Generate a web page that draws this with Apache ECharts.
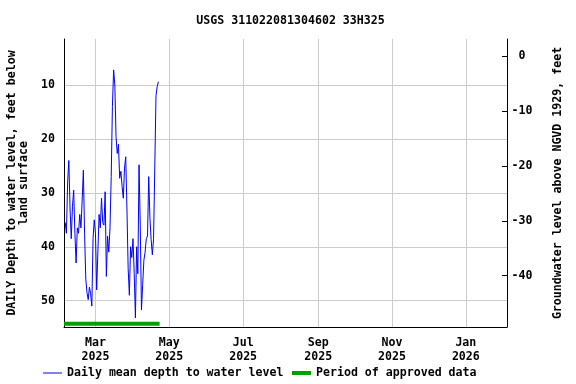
<!DOCTYPE html>
<html><head><meta charset="utf-8">
<script src="https://cdn.jsdelivr.net/npm/echarts@6/dist/echarts.min.js"></script>
<style>html,body{margin:0;padding:0;background:#fff}#c{width:576px;height:384px}</style>
</head><body><div id="c"></div>
<script>
// ---- data ----
const titleText = 'USGS 311022081304602 33H325';
const firstDay = [2025, 1, 4]; // 2025-02-04 (month 0-based)
const depthValues = [
  35.5, 37.5, 28, 24, 33, 38.5, 32.5, 29.5, 37.5, 43,
  36.5, 37.5, 34, 36.5, 31.5, 25.8, 37.5, 46, 48.5, 49.8,
  47.5, 48.7, 51, 38.5, 35, 37.5, 48, 40.8, 34, 36.5,
  31, 35.5, 36, 29.8, 45.5, 38, 41, 36.5, 27, 14,
  7.2, 10, 19.6, 22.7, 21, 27.3, 26, 28.8, 31, 25.4,
  23.3, 33, 44, 49, 40, 42, 38.5, 44.9, 53.2, 40,
  45, 24.8, 36, 51.7, 47, 42.5, 41, 38.5, 38, 27,
  34.7, 38.7, 41.5, 38.5, 25.4, 12, 10.3, 9.4
];
const approvedPeriod = ['2025-02-03', '2025-04-23'];
const approvedLevel = 54.3;
const xTickDates = ['2025-03-01', '2025-05-01', '2025-07-01', '2025-09-01', '2025-11-01', '2026-01-01'];
const xTickLabels = ['Mar\n2025', 'May\n2025', 'Jul\n2025', 'Sep\n2025', 'Nov\n2025', 'Jan\n2026'];
const leftTicks = [10, 20, 30, 40, 50];
const rightTicks = [0, -10, -20, -30, -40];
const xRange = ['2025-02-03', '2026-02-04'];
const leftRange = [1.47, 54.88];
const rightRange = [-49.38, 3.18];
const seriesNames = ['Daily mean depth to water level', 'Period of approved data'];

// ---- build ----
const DAY = 86400000;
const ts = s => { const p = s.split('-').map(Number); return Date.UTC(p[0], p[1] - 1, p[2]); };
const t0 = Date.UTC(firstDay[0], firstDay[1], firstDay[2]);
const depthData = depthValues.map((v, i) => [t0 + i * DAY, v]);
const approvedData = approvedPeriod.map(d => [ts(d), approvedLevel]);
const xTickTs = xTickDates.map(ts);
const labelMap = {};
xTickTs.forEach((t, i) => labelMap[t] = xTickLabels[i]);

const FONT = 'DejaVu Sans Mono';
const txt = { fontFamily: FONT, fontWeight: 'bold', fontSize: 11.6, color: '#000' };

const chart = echarts.init(document.getElementById('c'), null, { renderer: 'canvas' });
chart.setOption({
  animation: false,
  backgroundColor: '#fff',
  title: {
    text: titleText, left: 285.5, top: 10, textAlign: 'center',
    textStyle: Object.assign({}, txt)
  },
  grid: { left: 64, right: 69, top: 39, bottom: 57, containLabel: false, outerBoundsMode: 'none' },
  legend: [
    {
      left: 43, top: 367, itemWidth: 19, itemHeight: 1, icon: 'rect', padding: 0,
      textStyle: Object.assign({}, txt),
      data: [seriesNames[0]]
    },
    {
      left: 292, top: 367, itemWidth: 19, itemHeight: 4, icon: 'rect', padding: 0,
      textStyle: Object.assign({}, txt),
      data: [seriesNames[1]]
    }
  ],
  xAxis: {
    type: 'value', min: ts(xRange[0]), max: ts(xRange[1]),
    axisLine: { show: true, onZero: false, lineStyle: { color: '#000', width: 1 } },
    axisTick: { show: false, customValues: xTickTs },
    axisLabel: Object.assign({
      customValues: xTickTs, margin: 9, lineHeight: 14,
      formatter: v => labelMap[v] || ''
    }, txt),
    splitLine: { show: true, lineStyle: { color: '#cccccc', width: 1 } }
  },
  yAxis: [
    {
      type: 'value', inverse: true, min: leftRange[0], max: leftRange[1],
      position: 'left',
      name: 'DAILY Depth to water level, feet below\nland surface',
      nameLocation: 'middle', nameGap: 32, nameRotate: 90,
      nameTextStyle: Object.assign({ lineHeight: 12 }, txt),
      axisLine: { show: true, onZero: false, lineStyle: { color: '#000' } },
      axisTick: { show: false, customValues: leftTicks },
      axisLabel: Object.assign({ customValues: leftTicks, margin: 9 }, txt),
      splitLine: { show: true, lineStyle: { color: '#cccccc', width: 1 } }
    },
    {
      type: 'value', min: rightRange[0], max: rightRange[1],
      position: 'right',
      name: 'Groundwater level above NGVD 1929, feet',
      nameLocation: 'middle', nameGap: 45, nameRotate: 90,
      nameTextStyle: Object.assign({}, txt),
      axisLine: { show: true, onZero: false, lineStyle: { color: '#000' } },
      axisTick: { show: true, inside: true, length: 5, customValues: rightTicks, lineStyle: { color: '#000' } },
      axisLabel: Object.assign({ customValues: rightTicks, margin: 15, align: 'center' }, txt),
      splitLine: { show: false }
    }
  ],
  series: [
    {
      name: seriesNames[0], type: 'line', yAxisIndex: 0,
      data: depthData, symbol: 'none', lineStyle: { color: '#0000ff', width: 1 },
      itemStyle: { color: '#0000ff' }
    },
    {
      name: seriesNames[1], type: 'line', yAxisIndex: 0,
      data: approvedData, symbol: 'none', lineStyle: { color: '#00a000', width: 4 },
      itemStyle: { color: '#00a000' }
    }
  ]
});
</script></body></html>
